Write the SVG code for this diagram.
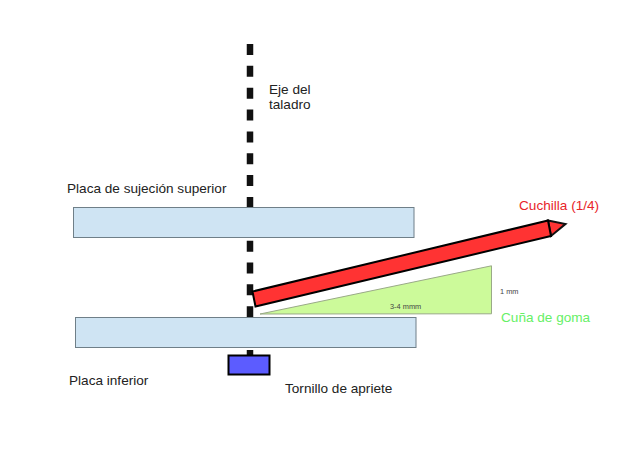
<svg xmlns="http://www.w3.org/2000/svg" width="640" height="453" viewBox="0 0 640 453">
<style>
text{font-family:"Liberation Sans",Arial,sans-serif;font-size:13.6px;fill:#222}
.plate{fill:#cfe4f3;stroke:#6f7f88;stroke-width:1}
.small{font-size:7.4px;fill:#444}
</style>
<rect width="640" height="453" fill="#fff"/>
<g id="connectors"><path d="M250 44V356" fill="none" stroke="#111" stroke-width="6.5" stroke-dasharray="11 10.85"/></g>
<g id="placa-superior"><rect class="plate" x="73.500" y="207.500" width="340.500" height="30"/><text x="67" y="193">Placa de sujeción superior</text></g>
<g id="placa-inferior"><rect class="plate" x="75.500" y="317.500" width="340.500" height="30"/><text x="69" y="385">Placa inferior</text></g>
<g id="tornillo"><rect x="228.500" y="355.500" width="41" height="19" fill="#5c5cff" stroke="#000" stroke-width="2"/><text x="285" y="393">Tornillo de apriete</text></g>
<g id="eje"><text x="269" y="94">Eje del</text><text x="269" y="109">taladro</text></g>
<g id="cuna"><path d="M260 314L491.500 265.800V313.800Z" fill="#ccfa9a" stroke="#9aaa88" stroke-width="1"/><text class="small" x="390" y="309">3-4 mmm</text><text class="small" x="500" y="294">1 mm</text><text x="501" y="322" style="fill:#66f066">Cuña de goma</text></g>
<g id="cuchilla"><path d="M548 220.500L565.500 224L551 236Z" fill="#ff3333" stroke="#111" stroke-width="2"/><path d="M252.500 291.500L548 220.500L551 236L255.500 306.500Z" fill="#ff3333" stroke="#000" stroke-width="2"/><text x="519" y="210" style="fill:#e8242a">Cuchilla (1/4)</text></g>
</svg>
